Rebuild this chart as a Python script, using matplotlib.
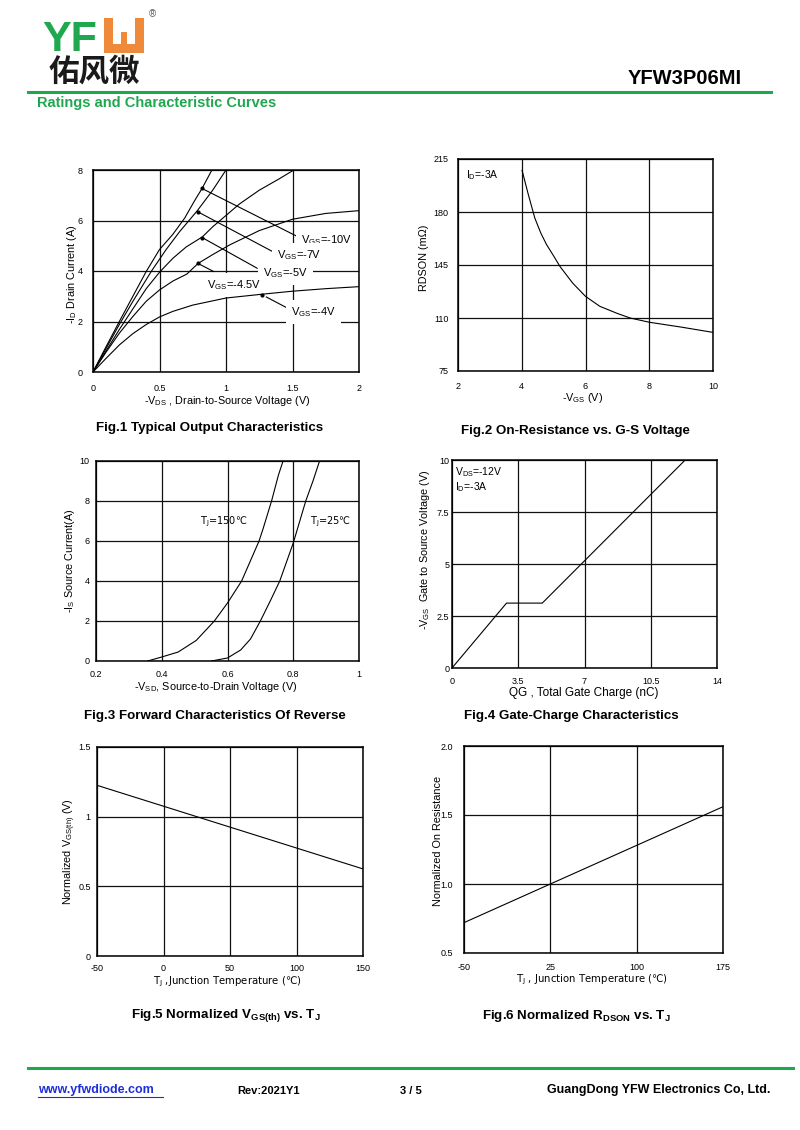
import matplotlib
matplotlib.use("Agg")
import matplotlib.pyplot as plt
from matplotlib.patches import Rectangle
from matplotlib.lines import Line2D

plt.rcParams["font.family"] = ["Liberation Sans", "DejaVu Sans"]
plt.rcParams["mathtext.fontset"] = "custom"
plt.rcParams["mathtext.rm"] = "Liberation Sans"
plt.rcParams["mathtext.it"] = "Liberation Sans:italic"
plt.rcParams["mathtext.bf"] = "Liberation Sans:bold"
plt.rcParams["mathtext.default"] = "regular"
plt.rcParams["axes.unicode_minus"] = False

# ---------------- data ----------------
# Fig.1 output characteristics (-VDS in V, -ID in A)
VDS_10 = [0, 0.1, 0.2, 0.3, 0.4, 0.5, 0.6, 0.69, 0.76, 0.82, 0.894]
ID_10 = [0, 1.02, 2.02, 3.0, 3.98, 4.85, 5.45, 6.1, 6.75, 7.27, 8.0]
VDS_7 = [0, 0.1, 0.2, 0.3, 0.44, 0.55, 0.65, 0.73, 0.786, 0.9, 1.0]
ID_7 = [0, 0.95, 1.9, 2.8, 4.0, 4.85, 5.55, 6.05, 6.4, 7.2, 8.0]
VDS_5 = [0, 0.1, 0.2, 0.3, 0.4, 0.5, 0.6, 0.7, 0.822, 0.9, 1.0, 1.1, 1.25, 1.4, 1.51]
ID_5 = [0, 0.85, 1.7, 2.5, 3.3, 3.95, 4.5, 4.95, 5.35, 5.75, 6.2, 6.65, 7.2, 7.65, 8.0]
VDS_45 = [0, 0.1, 0.2, 0.3, 0.4, 0.5, 0.6, 0.706, 0.79, 0.9, 1.03, 1.25, 1.5, 1.75, 2.0]
ID_45 = [0, 0.8, 1.55, 2.2, 2.8, 3.25, 3.6, 3.88, 4.3, 4.65, 5.04, 5.6, 6.05, 6.28, 6.39]
VDS_4 = [0, 0.1, 0.2, 0.3, 0.4, 0.5, 0.6, 0.75, 1.0, 1.27, 1.5, 1.75, 2.0]
ID_4 = [0, 0.55, 1.08, 1.52, 1.88, 2.18, 2.4, 2.65, 2.93, 3.08, 3.2, 3.3, 3.38]
FIG1_LABELS = ["V$_{GS}$=-10V", "V$_{GS}$=-7V", "V$_{GS}$=-5V", "V$_{GS}$=-4.5V", "V$_{GS}$=-4V"]
FIG1_DOT_X = [0.819, 0.786, 0.822, 0.789, 1.271]
FIG1_DOT_Y = [7.27, 6.35, 5.32, 4.30, 3.06]
FIG1_END_X = [1.535, 1.372, 1.234, 0.907, 1.455]
FIG1_END_Y = [5.37, 4.71, 4.11, 3.98, 2.55]
FIG1_TXT_X = [1.565, 1.384, 1.28, 0.857, 1.49]
FIG1_TXT_Y = [5.24, 4.62, 3.92, 3.45, 2.39]

# Fig.2 on-resistance vs gate voltage
VGS2 = [4.01, 4.2, 4.41, 4.6, 4.78, 5.0, 5.2, 5.6, 6.0, 6.45, 7.0, 7.4, 8.0, 9.0, 10.0]
RDSON2 = [207.5, 192, 176, 166, 158.4, 151, 144, 133, 124.3, 117.7, 113, 110, 107.2, 104, 100.5]

# Fig.3 body diode forward characteristics
VSD_150 = [0.357, 0.4, 0.45, 0.505, 0.56, 0.6, 0.643, 0.696, 0.708, 0.734, 0.755, 0.769]
IS_150 = [0, 0.2, 0.45, 1.03, 2.0, 2.9, 4.0, 6.0, 6.6, 8.0, 9.3, 10.0]
VSD_25 = [0.551, 0.6, 0.64, 0.67, 0.70, 0.73, 0.759, 0.8, 0.838, 0.86, 0.88]
IS_25 = [0, 0.15, 0.55, 1.1, 2.0, 3.0, 4.0, 5.9, 8.0, 9.0, 10.0]

# Fig.4 gate charge
QG = [0, 2.88, 4.77, 12.32]
VGS4 = [0, 3.12, 3.12, 10.0]

# Fig.5 normalized threshold voltage
TJ5 = [-50, 0, 50, 100, 150]
VTH5 = [1.225, 1.075, 0.925, 0.775, 0.625]

# Fig.6 normalized on-resistance
TJ6 = [-50, 25, 100, 175]
RDS6 = [0.72, 1.0, 1.28, 1.56]

GREEN = "#1fa84f"
ORANGE = "#ef8a3b"

W, H = 800, 1130
fig = plt.figure(figsize=(8, 11.3), dpi=100)


def add_ax(l, t, r, b):
    return fig.add_axes([l / W, 1 - b / H, (r - l) / W, (b - t) / H])


def ftext(x, y, s, **kw):
    kw.setdefault("ha", "center")
    kw.setdefault("va", "center")
    fig.text(x / W, 1 - y / H, s, **kw)


def style(ax, xlim, ylim, xt, xtl, yt, ytl, xpad, ypad):
    ax.set_xlim(xlim)
    ax.set_ylim(ylim)
    ax.set_xticks(xt)
    ax.set_xticklabels(xtl)
    ax.set_yticks(yt)
    ax.set_yticklabels(ytl)
    ax.tick_params(axis="x", length=0, labelsize=6.5, pad=xpad)
    ax.tick_params(axis="y", length=0, labelsize=6.5, pad=ypad)
    ax.grid(True, color="#111111", lw=0.9)
    ax.set_axisbelow(True)
    for s in ax.spines.values():
        s.set_linewidth(1.1)


LBL = dict(fontsize=7.8)
TITLE = dict(fontsize=9.6, fontweight="bold")
DEG = dict(family="DejaVu Sans", math_fontfamily="dejavusans")

# ---------- Fig.1 ----------
ax1 = add_ax(93, 170, 359, 372)
style(ax1, (0, 2), (0, 8), [0, 0.5, 1, 1.5, 2], ["0", "0.5", "1", "1.5", "2"],
      [0, 2, 4, 6, 8], ["0", "2", "4", "6", "8"], 8.3, 7.3)
for xs, ys in [(VDS_10, ID_10), (VDS_7, ID_7), (VDS_5, ID_5), (VDS_45, ID_45), (VDS_4, ID_4)]:
    ax1.plot(xs, ys, color="black", lw=0.8, zorder=5)
for i, lab in enumerate(FIG1_LABELS):
    ax1.plot([FIG1_DOT_X[i], FIG1_END_X[i]], [FIG1_DOT_Y[i], FIG1_END_Y[i]],
             color="black", lw=0.8, zorder=3)
    ax1.plot(FIG1_DOT_X[i], FIG1_DOT_Y[i], "o", color="black", ms=2, zorder=5)
    ax1.text(FIG1_TXT_X[i], FIG1_TXT_Y[i], lab, fontsize=8, ha="left", va="center",
             zorder=4, bbox=dict(boxstyle="square,pad=0.45", fc="white", ec="none"))
ftext(227, 401, "-V$_{DS}$ , Drain-to-Source Voltage (V)", **LBL)
ftext(72, 274, "-I$_D$ Drain Current (A)", rotation=90, **LBL)
ftext(210, 428, "Fig.1 Typical Output Characteristics", **TITLE)

# ---------- Fig.2 ----------
ax2 = add_ax(458, 159, 713, 371)
style(ax2, (2, 10), (75, 215), [2, 4, 6, 8, 10], ["2", "4", "6", "8", "10"],
      [75, 110, 145, 180, 215], ["75", "110", "145", "180", "215"], 8, 7)
ax2.plot(VGS2, RDSON2, color="black", lw=0.8)
ax2.text(2.25, 204.4, "I$_D$=-3A", fontsize=7.5, ha="left", va="center")
ftext(583, 398, "-V$_{GS}$ (V)", **LBL)
ftext(424, 258, "RDSON (mΩ)", rotation=90, **LBL)
ftext(575, 431, "Fig.2 On-Resistance vs. G-S Voltage", **TITLE)

# ---------- Fig.3 ----------
ax3 = add_ax(96, 461, 359, 661)
style(ax3, (0.2, 1), (0, 10), [0.2, 0.4, 0.6, 0.8, 1], ["0.2", "0.4", "0.6", "0.8", "1"],
      [0, 2, 4, 6, 8, 10], ["0", "2", "4", "6", "8", "10"], 6.8, 4.8)
ax3.plot(VSD_150, IS_150, color="black", lw=0.8)
ax3.plot(VSD_25, IS_25, color="black", lw=0.8)
ax3.text(0.516, 6.97, "T$_J$=150℃", fontsize=7, ha="left", va="center", **DEG)
ax3.text(0.851, 6.97, "T$_J$=25℃", fontsize=7, ha="left", va="center", **DEG)
ftext(216, 687, "-V$_{SD}$, Source-to-Drain Voltage (V)", **LBL)
ftext(70, 561, "-I$_S$ Source Current(A)", rotation=90, **LBL)
ftext(215, 716, "Fig.3 Forward Characteristics Of Reverse", **TITLE)

# ---------- Fig.4 ----------
ax4 = add_ax(452, 460, 717, 668)
style(ax4, (0, 14), (0, 10), [0, 3.5, 7, 10.5, 14], ["0", "3.5", "7", "10.5", "14"],
      [0, 2.5, 5, 7.5, 10], ["0", "2.5", "5", "7.5", "10"], 6.6, 2)
ax4.plot(QG, VGS4, color="black", lw=0.8)
ax4.text(0.16, 9.44, "V$_{DS}$=-12V", fontsize=7.5, ha="left", va="center")
ax4.text(0.16, 8.72, "I$_D$=-3A", fontsize=7.5, ha="left", va="center")
ftext(584, 693, "QG , Total Gate Charge (nC)", fontsize=8.5)
ftext(425, 550, "-V$_{GS}$  Gate to Source Voltage (V)", rotation=90, **LBL)
ftext(571, 716, "Fig.4 Gate-Charge Characteristics", **TITLE)

# ---------- Fig.5 ----------
ax5 = add_ax(97, 747, 363, 956)
style(ax5, (-50, 150), (0, 1.5), [-50, 0, 50, 100, 150], ["-50", "0", "50", "100", "150"],
      [0, 0.5, 1, 1.5], ["0", "0.5", "1", "1.5"], 5.8, 4.5)
ax5.plot(TJ5, VTH5, color="black", lw=0.8)
ftext(227, 982, "T$_J$ ,Junction Temperature (℃)", fontsize=7.3, **DEG)
ftext(70, 852, "Normalized V$_{GS(th)}$ (V)", rotation=90, **LBL)
ftext(226, 1016, "Fig.5 Normalized V$_\\mathbf{GS(th)}$ vs. T$_\\mathbf{J}$", **TITLE)

# ---------- Fig.6 ----------
ax6 = add_ax(464, 746, 723, 953)
style(ax6, (-50, 175), (0.5, 2.0), [-50, 25, 100, 175], ["-50", "25", "100", "175"],
      [0.5, 1.0, 1.5, 2.0], ["0.5", "1.0", "1.5", "2.0"], 7.0, 7.7)
ax6.plot(TJ6, RDS6, color="black", lw=0.8)
ftext(592, 980, "T$_J$ , Junction Temperature (℃)", fontsize=7.3, **DEG)
ftext(438, 841, "Normalized On Resistance", rotation=90, **LBL)
ftext(576, 1016, "Fig.6 Normalized R$_\\mathbf{DSON}$ vs. T$_\\mathbf{J}$", **TITLE)

# ---------- header ----------
ftext(42, 51, "YF", fontsize=31, fontweight="bold", color=GREEN, ha="left", va="baseline")
for (x0, y0, x1, y1, c) in [(104, 18, 144, 53, ORANGE), (113, 18, 135, 44, "white"),
                            (121, 31.5, 127, 44, ORANGE)]:
    fig.add_artist(Rectangle((x0 / W, 1 - y1 / H), (x1 - x0) / W, (y1 - y0) / H,
                             transform=fig.transFigure, color=c, lw=0))
ftext(152, 14, "®", fontsize=7, color="#555555")
ftext(49, 72, "佑风微", fontsize=22, fontweight="bold", family="Noto Sans CJK SC",
      ha="left", color="#1a1a1a")
ftext(742, 78, "YFW3P06MI", fontsize=14.5, fontweight="bold", ha="right")
fig.add_artist(Line2D([28 / W, 771 / W], [1 - 92 / H, 1 - 92 / H], color=GREEN, lw=2.2,
                      transform=fig.transFigure))
ftext(37, 103, "Ratings and Characteristic Curves", fontsize=10.5, fontweight="bold",
      color=GREEN, ha="left")

# ---------- footer ----------
fig.add_artist(Line2D([28 / W, 793 / W], [1 - 1068 / H, 1 - 1068 / H], color=GREEN, lw=2.2,
                      transform=fig.transFigure))
ftext(38, 1090, "www.yfwdiode.com", fontsize=9, fontweight="bold", color="#1d2fd8", ha="left")
fig.add_artist(Line2D([38 / W, 163 / W], [1 - 1097 / H, 1 - 1097 / H], color="#1d2fd8", lw=0.8,
                      transform=fig.transFigure))
ftext(237, 1091, "Rev:2021Y1", fontsize=8, fontweight="bold", ha="left")
ftext(400, 1091, "3 / 5", fontsize=8, fontweight="bold", ha="left")
ftext(770, 1090, "GuangDong YFW Electronics Co, Ltd.", fontsize=9, fontweight="bold", ha="right")

fig.savefig("out.png", dpi=100)
